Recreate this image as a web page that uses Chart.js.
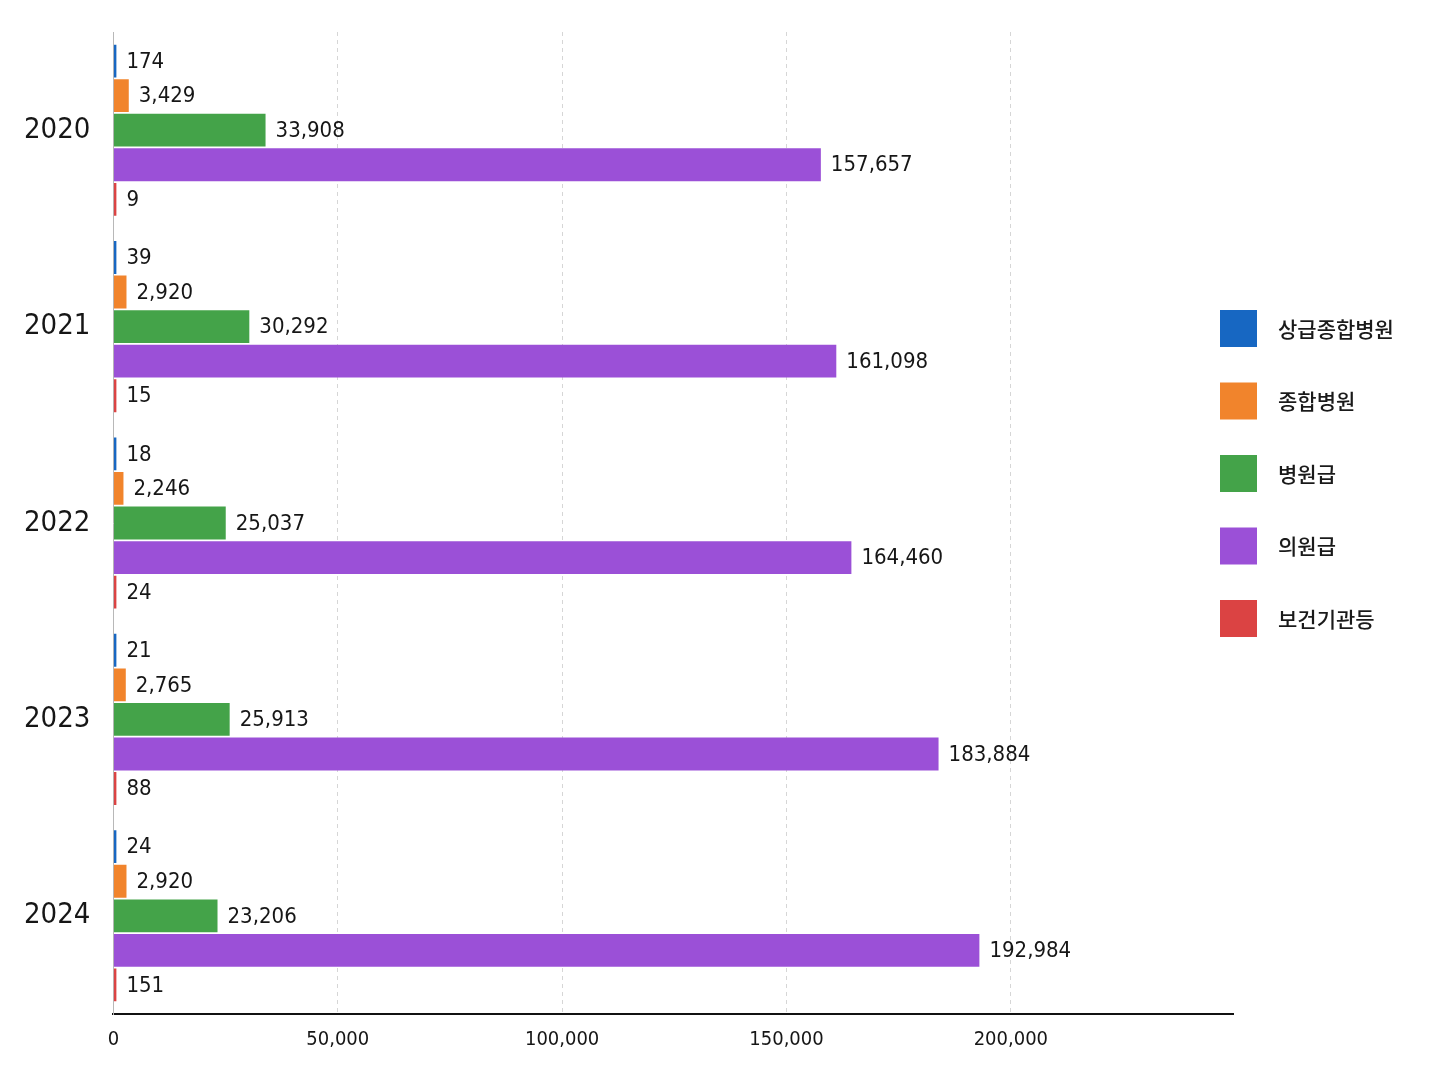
<!DOCTYPE html>
<html>
<head>
<meta charset="utf-8">
<title>의료기관 종별 현황</title>
<script src="https://cdn.jsdelivr.net/npm/chart.js"></script>
<style>
  html, body { margin: 0; padding: 0; background: #fff; }
  #wrap { width: 1448px; height: 1086px; }
</style>
</head>
<body>
<div id="wrap"><canvas id="chart" width="1448" height="1086"></canvas></div>
<script>
// 연도별 의료기관 종별 값
const years = ['2020', '2021', '2022', '2023', '2024'];
const seriesNames = ['상급종합병원', '종합병원', '병원급', '의원급', '보건기관등'];
const tertiary = [174, 39, 18, 21, 24];
const general = [3429, 2920, 2246, 2765, 2920];
const hospital = [33908, 30292, 25037, 25913, 23206];
const clinic = [157657, 161098, 164460, 183884, 192984];
const publicHealth = [9, 15, 24, 88, 151];
const xTicks = [0, 50000, 100000, 150000, 200000];

const colors = ['#1767c2', '#f1842c', '#44a349', '#9b50d7', '#db4343'];
const numFont = "'DejaVu Sans Condensed', 'Noto Sans CJK KR', sans-serif";
const fmt = v => v.toLocaleString('en-US');

const seriesValues = [tertiary, general, hospital, clinic, publicHealth];
const datasets = seriesNames.map((name, i) => ({
  label: name,
  data: seriesValues[i],
  backgroundColor: colors[i],
  borderWidth: 0,
  minBarLength: 3,
  barPercentage: 0.95,
  categoryPercentage: 0.88
}));

// 막대 끝 값 표시
const valueLabels = {
  id: 'valueLabels',
  afterDatasetsDraw(chart) {
    const ctx = chart.ctx;
    ctx.save();
    ctx.font = '22px ' + numFont;
    ctx.fillStyle = '#161616';
    ctx.textBaseline = 'middle';
    ctx.textAlign = 'left';
    chart.data.datasets.forEach((ds, i) => {
      const meta = chart.getDatasetMeta(i);
      meta.data.forEach((bar, j) => {
        ctx.fillText(fmt(ds.data[j]), bar.x + 10, bar.y + 1);
      });
    });
    ctx.restore();
  }
};

// 오른쪽 세로 범례
const sideLegend = {
  id: 'sideLegend',
  afterDraw(chart) {
    const ctx = chart.ctx;
    const x0 = chart.chartArea.right - 13;
    const y0 = 310;
    ctx.save();
    ctx.font = '500 21px "Noto Sans CJK KR", sans-serif';
    ctx.textBaseline = 'middle';
    chart.data.datasets.forEach((ds, i) => {
      const y = y0 + i * 72.5;
      ctx.fillStyle = ds.backgroundColor;
      ctx.fillRect(x0, y, 37, 37);
      ctx.fillStyle = '#1a1a1a';
      ctx.fillText(ds.label, x0 + 58, y + 19);
    });
    ctx.restore();
  }
};

new Chart(document.getElementById('chart'), {
  type: 'bar',
  data: { labels: years, datasets },
  plugins: [valueLabels, sideLegend],
  options: {
    indexAxis: 'y',
    responsive: false,
    animation: false,
    layout: { padding: { top: 32, right: 215, bottom: 20, left: 1 } },
    plugins: {
      legend: { display: false },
      tooltip: { enabled: false }
    },
    scales: {
      x: {
        min: 0,
        max: 249500,
        afterBuildTicks(axis) {
          axis.ticks = xTicks.map(v => ({ value: v }));
        },
        ticks: {
          callback: v => fmt(v),
          font: { family: numFont, size: 20 },
          color: '#161616',
          padding: 14
        },
        grid: {
          drawTicks: false,
          color: c => (c.tick && c.tick.value === 0) ? 'rgba(0,0,0,0)' : '#d6d6d6',
          lineWidth: 1
        },
        border: { display: true, color: '#111', width: 2, dash: [4, 4] }
      },
      y: {
        ticks: {
          font: { family: numFont, size: 29, lineHeight: 0.6 },
          color: '#161616',
          padding: 23
        },
        grid: { display: false, drawTicks: false },
        border: { display: true, color: '#b8b8b8', width: 1 }
      }
    }
  }
});
</script>
</body>
</html>
